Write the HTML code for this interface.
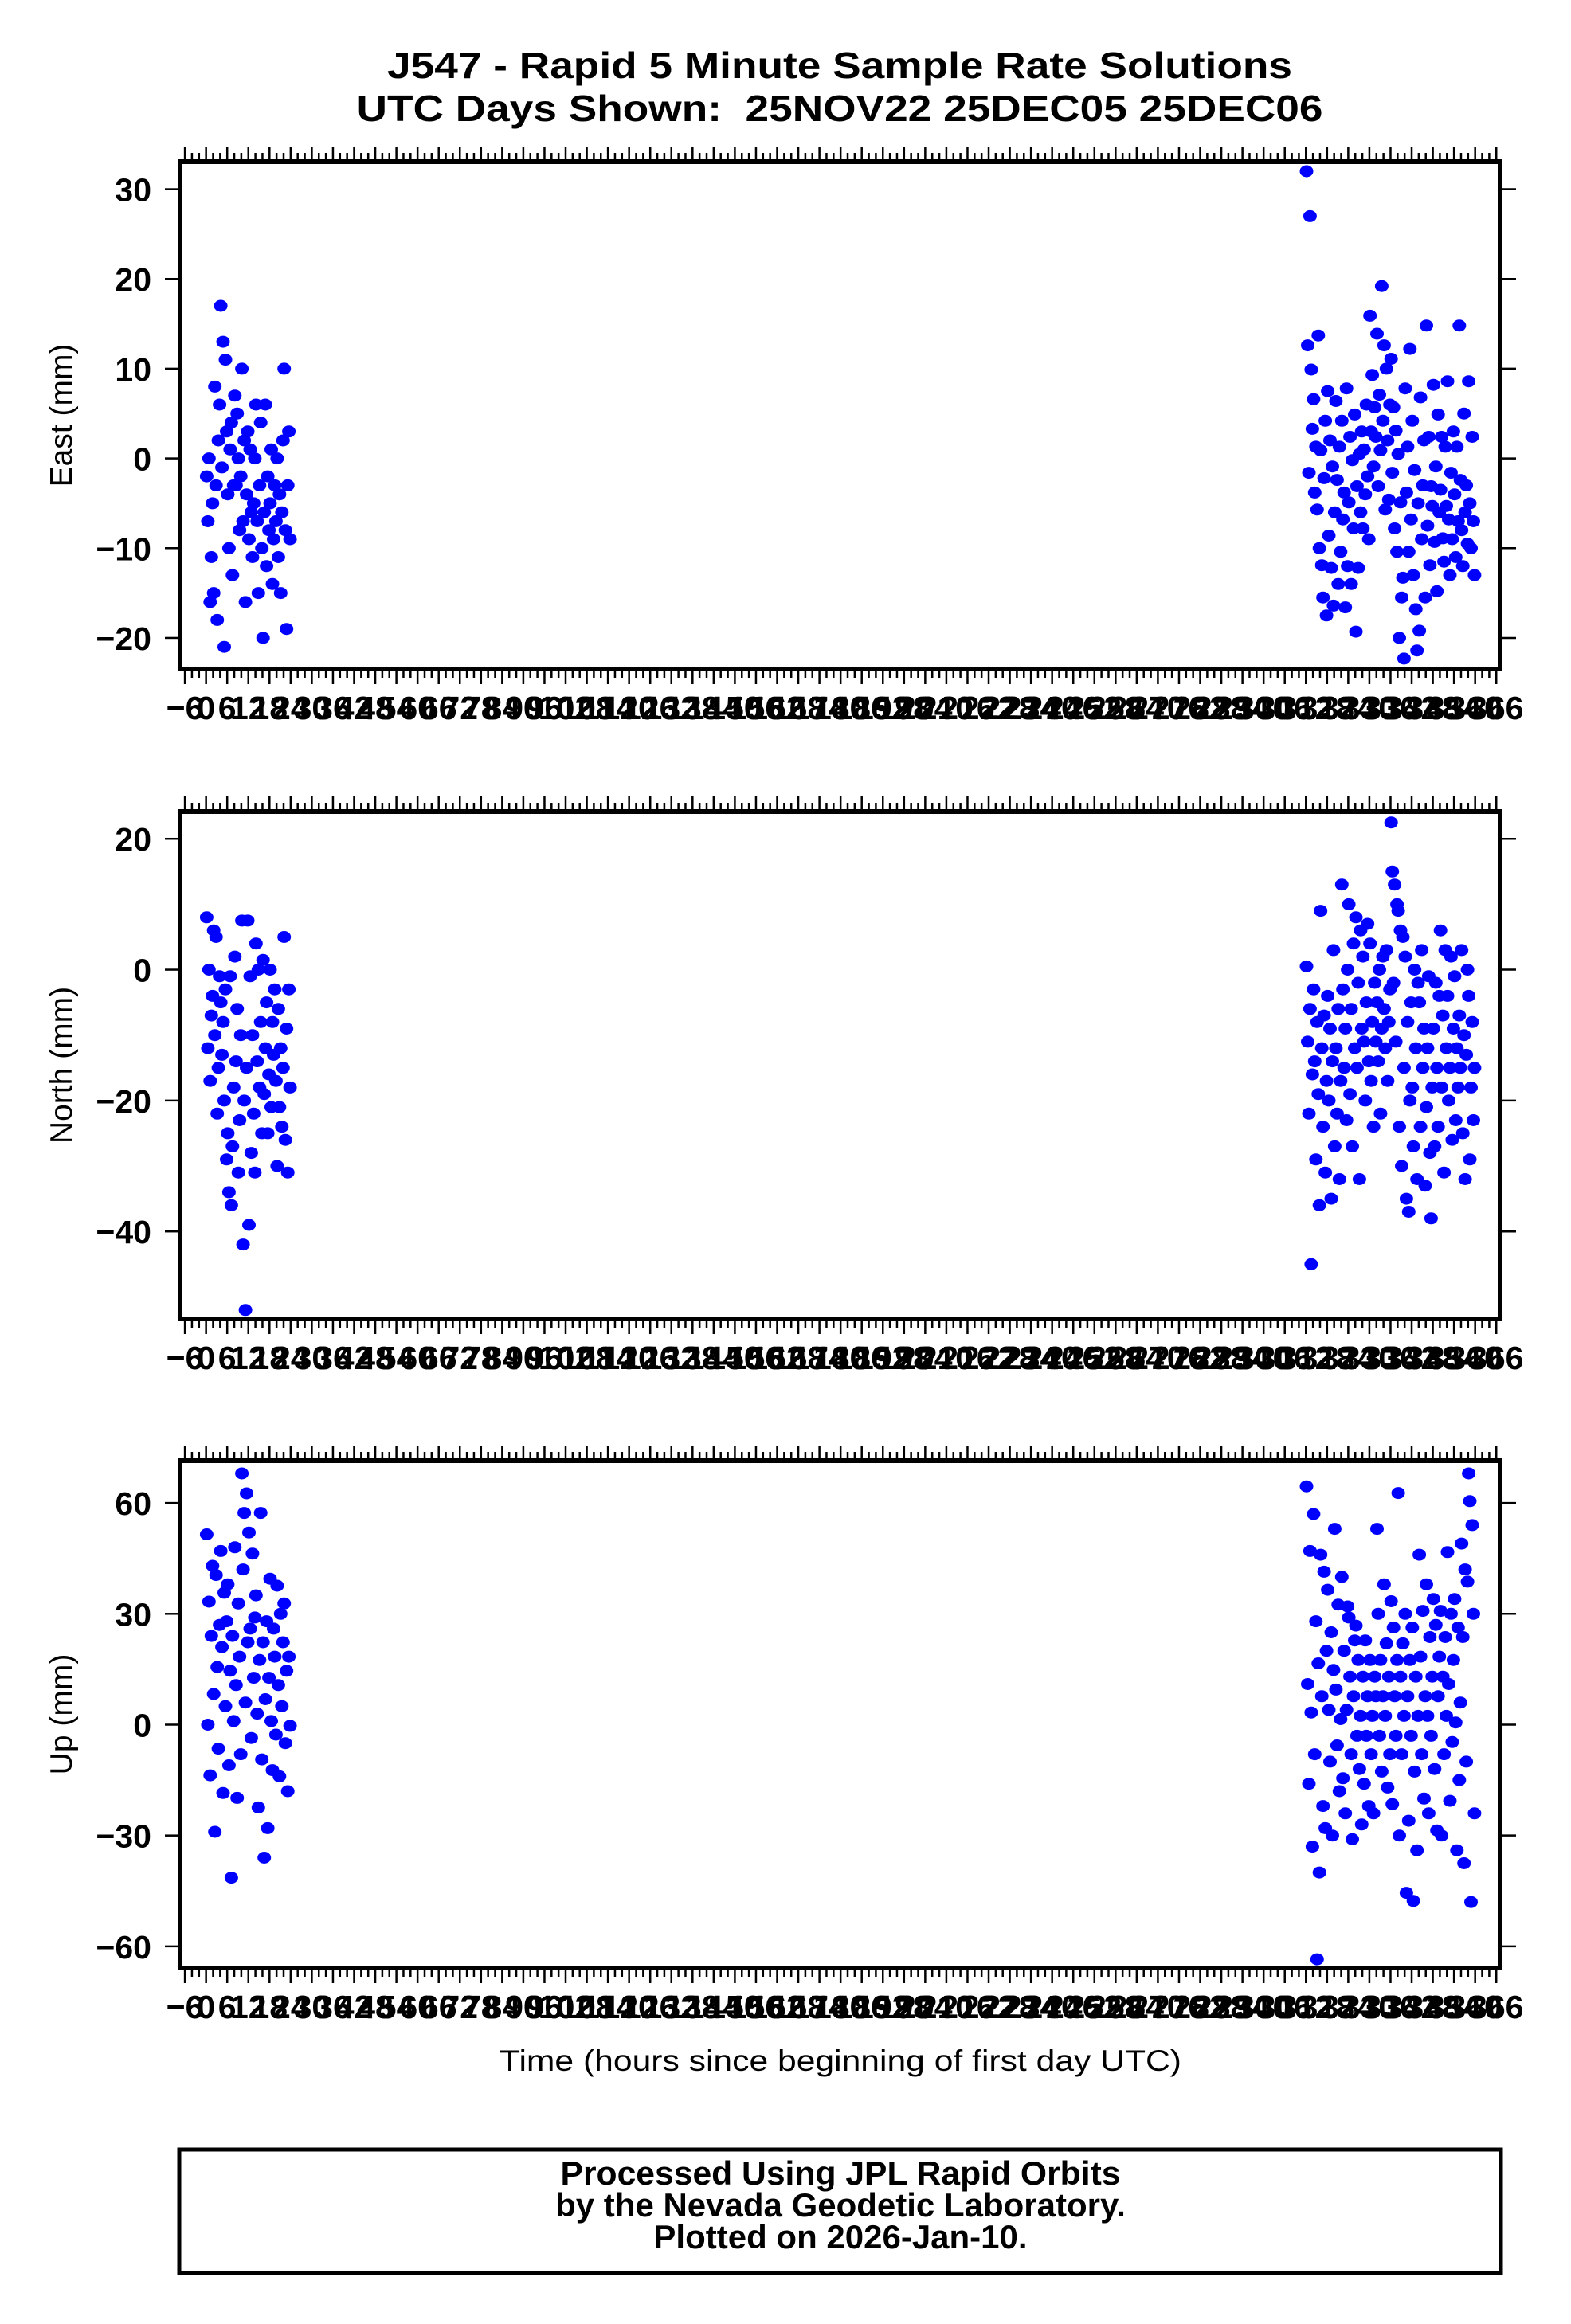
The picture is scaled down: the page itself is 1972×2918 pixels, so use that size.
<!DOCTYPE html>
<html><head><meta charset="utf-8"><style>
html,body{margin:0;padding:0;background:#fff;}
svg{display:block;}
text{font-family:"Liberation Sans",Arial,sans-serif;}
</style></head>
<body>
<svg id="chart" xmlns="http://www.w3.org/2000/svg" width="1972" height="2918" viewBox="0 0 1972 2918">
<rect x="0" y="0" width="1972" height="2918" fill="#fff"/>
<text x="1054" y="98" text-anchor="middle" font-size="46" font-weight="bold" textLength="1136" lengthAdjust="spacingAndGlyphs">J547 - Rapid 5 Minute Sample Rate Solutions</text>
<text x="1054" y="152" text-anchor="middle" font-size="46" font-weight="bold" textLength="1213" lengthAdjust="spacingAndGlyphs" xml:space="preserve">UTC Days Shown:  25NOV22 25DEC05 25DEC06</text>
<text x="1055" y="2600" text-anchor="middle" font-size="37" textLength="856" lengthAdjust="spacingAndGlyphs">Time (hours since beginning of first day UTC)</text>
<g>
<rect x="225" y="2699" width="1659" height="155" fill="none" stroke="#000" stroke-width="5"/>
<text x="1055" y="2743" text-anchor="middle" font-size="42" font-weight="bold" textLength="703" lengthAdjust="spacingAndGlyphs">Processed Using JPL Rapid Orbits</text>
<text x="1055" y="2783" text-anchor="middle" font-size="42" font-weight="bold">by the Nevada Geodetic Laboratory.</text>
<text x="1055" y="2823" text-anchor="middle" font-size="42" font-weight="bold">Plotted on 2026-Jan-10.</text>
</g>
</svg>
<script>
// ---- data (hours since start of first day; 20-minute samples per segment) ----
const dayStarts = [0, 312];
const sampleStepHours = 1/3;
const xTickLabels = [];
for (let h = -6; h <= 366; h += 6) xTickLabels.push(h);

const eastDay1 = [-2,-7,0,-16,-11,-5, -15,8,-3,-18,2,6, 17,-1,13,-21,11,3, -4,-10,1,4,-13,-3, 7,-3,5,0,-8,-2, 10,-7,2,-16,-4,3, -9,1,-6,-11,-5,0, 6,-7,-15,-3,4,-10, -20,-6,6,-12,-2,-8, -5,1,-14,-9,-3,-7, 0,-11,-4,-15,-6,2, 10,-8,-19,-3,3,-9];
const eastDays23 = [32,12.6,-1.6,27,9.9,3.3, 6.6,-3.8,1.3,-5.7,13.7,-10, 0.9,-11.9,-15.5,-2.2,4.2,-17.5, 7.5,-8.6,2,-12.2,-0.9,-16.4, -6,6.4,-2.4,-14,1.3,-10.4, 4.2,-6.8,-3.8,-16.6,7.8,-12, -4.9,2.4,-14,-0.2,-7.8,4.9, -19.3,-3.1,-12.2,0.5,-6,3, -7.8,1,-4,6,-2,-9, 15.9,3,9.3,-0.9,5.7,2.4, 13.9,-3.1,7.1,0.9,19.2,4.2, 12.6,-5.7,10,2,-4.6,6, 11.1,-1.6,5.7,-7.8,3.1,-10.4, 0.5,-20,-4.9,-15.5,-13.3,-22.3, 7.8,-3.8,1.3,-10.4,12.2,-6.8, 4.2,-13,-1.3,-16.8,-21.4,-5, -19.2,6.8,-9,-3,2,-15.5, 14.8,-7.5,2.4,-11.9,-3.1,-5.3, 8.2,-9.3,-0.9,-14.8,4.9,-6, -3.5,2.4,-8.9,-11.5,1.3,-5.3, 8.6,-6.8,-13,-1.6,-9,3, -4,-11,1.3,-7,14.8,-2.4, -8,-12,5,-6,-3,-9.5, 8.6,-5,-10,2.4,-7,-13];

const northDay1 = [8,-12,0,-17,-7,-4, 6,-10,5,-22,-15,-1, -5,-13,-8,-20,-3,-29, -25,-34,-1,-36,-27,-18, 2,-14,-6,-31,-23,-10, 7.5,-42,-20,-52,-15,7.5, -39,-1,-28,-10,-22,-31, 4,-14,0,-18,-8,-25, 1.5,-19,-12,-5,-25,-16, 0,-21,-8,-13,-3,-17, -30,-6,-21,-12,-24,-15, 5,-26,-9,-31,-3,-18];
const northDays23 = [0.5,-11,-22,-6,-45,-16, -3,-14,-29,-8,-19,-36, 9,-12,-24,-7,-31,-17, -4,-20,-9,-35,-14,3, -27,-12,-22,-6,-32,-17, 13,-3,-15,-9,-23,0, 10,-19,-6,-27,4,-12, 8,-15,-2,-32,6,-9, 2,-11,-20,-5,7,-14, 4,-17,-8,-24,-2,-11, -5,-14,0,-22,-9,2, -6,-12,3,-17,-8,-3, 22.5,15,-2,13,-11,10, 9,-24,6,-30,5,-15, 2,-35,-8,-37,-20,-5, -18,-27,0,-12,-32,-2, -5,-24,3,-15,-9,-33, -21,-12,-1,-28,-38,-18, -9,-27,-2,-15,-24,-4, 6,-18,-7,-31,3,-12, -4,-20,-15,2,-26,-9, -1,-23,-12,-18,-7,-15, 3,-25,-10,-32,-13,0, -4,-29,-18,-8,-23,-15];

const upDay1 = [51.5,0,33.3,-13.7,24,43, 8.3,-29,40.5,15.6,-6.5,27, 47,21,-18.5,35.7,5,28, 38,-11,14.6,-41.4,24,1, 48,10.7,-19.8,32.8,18.4,-8, 68,42,57.3,6,62.6,22.3, 52,26,-3.6,46.3,12.7,29, 35,3,-22.4,17.5,57.3,-9.4, 22.3,-36,6.9,28,-28,12.7, 39.5,1,-12.3,26,18.4,-2.7, 37.6,10.7,-14,30,5,22.3, 32.8,-5,14.6,-18,18.4,-0.3];
const upDays23 = [64.5,11,-16,47,3.3,-33, 57,-8,28,-63.5,16.6,-40, 46,7.7,-22,41.4,-28,20, 36.5,4,-10,25,-30,14.8, 53,9.5,-5.6,32.5,-18,1.5, 40,-14.5,20,-24,4,32, 29,13,-8,-31,7.7,22.8, 26.8,-3,17.5,-12,2.4,-27, 13,-16,22.8,-3,7.7,-22, 17.5,-8,2.4,-24,13,7.7, 53,30,-3,17.5,-12.7,7.7, 38,2.4,22,-17,13,-8, 33.4,-21.5,26.3,7.7,-3,17.5, 62.7,-30,13,-8,22,2.4, 30,-45.5,7.7,-26,17.5,-3, 26.3,-47.7,-12.7,13,-34,2.4, 46,18.4,-8,30.8,-20,7.7, 38,2.4,-24,23.7,-3,13, 34,-12,27,-28.6,7.7,18.4, 30.8,-30,13,-8,23.7,2.4, 46.7,11,-20.6,30,-4.7,17.5, 34,0.6,-34,26.3,-15,6, 49,23.7,-37.5,42,-10,38.7, 68,60.5,-48,54,30,-24];

const eastTicks = [30,20,10,0,-10,-20];
const northTicks = [20,0,-20,-40];
const upTicks = [60,30,0,-30,-60];

// ---- layout ----
const NS = 'http://www.w3.org/2000/svg';
const svg = document.getElementById('chart');
const X0 = 229, X1 = 1880, XMIN = -6.7, XMAX = 366.4;
function xScale(h){ return X0 + (h - XMIN) / (XMAX - XMIN) * (X1 - X0); }

const panels = [
  {name:'east', title:'East (mm)', top:200, ymin:-23.2, ymax:32.8, ticks:eastTicks, series:[eastDay1, eastDays23]},
  {name:'north', title:'North (mm)', top:1016, ymin:-53, ymax:23.8, ticks:northTicks, series:[northDay1, northDays23]},
  {name:'up', title:'Up (mm)', top:1831, ymin:-65.2, ymax:70.8, ticks:upTicks, series:[upDay1, upDays23]}
];

function mk(tag, attrs, parent){
  const el = document.createElementNS(NS, tag);
  for (const k in attrs) el.setAttribute(k, attrs[k]);
  parent.appendChild(el);
  return el;
}

panels.forEach(p => {
  const outerTop = p.top, outerBot = p.top + 643;
  const inTop = outerTop + 6, inBot = outerBot - 6;
  const yScale = v => inBot - (v - p.ymin) / (p.ymax - p.ymin) * (inBot - inTop);
  const g = mk('g', {}, svg);
  
  

  const pts = mk('g', {fill:'#0000ff'}, g);
  
  
  p.series.forEach((vals, si) => {
    vals.forEach((v, i) => {
      const h = dayStarts[si] + (i + 0.5) * sampleStepHours;
      const c = mk('ellipse', {cx:xScale(h).toFixed(1), cy:yScale(v).toFixed(1), rx:8.5, ry:7.5}, pts);
      
      
    });
  });

  const fr = mk('rect', {x:226, y:outerTop+3, width:1657, height:637, fill:'none', stroke:'#000', 'stroke-width':6}, g);
  
  

  const yax = mk('g', {}, g);
  
  
  p.ticks.forEach(t => {
    const y = yScale(t);
    mk('line', {x1:207, x2:223, y1:y, y2:y, stroke:'#000', 'stroke-width':2.5}, yax);
    mk('line', {x1:1886, x2:1903, y1:y, y2:y, stroke:'#000', 'stroke-width':2.5}, yax);
    const lb = mk('text', {x:190, y:y+15, 'text-anchor':'end', 'font-size':41, 'font-weight':'bold'}, yax);
    lb.textContent = t < 0 ? '\u2212' + Math.abs(t) : String(t);
    
    
  });
  const yt = mk('text', {x:0, y:0, 'text-anchor':'middle', 'font-size':39, transform:`translate(90,${(outerTop+outerBot)/2}) rotate(-90)`}, g);
  yt.textContent = p.title;
  
  

  const xax = mk('g', {}, g);
  
  
  for (let h = -6; h <= 366; h += 2) {
    const x = xScale(h);
    const major = (h % 6 === 0);
    const len = major ? 16 : 8;
    mk('line', {x1:x, x2:x, y1:outerTop, y2:outerTop-len, stroke:'#000', 'stroke-width':2.5}, xax);
    mk('line', {x1:x, x2:x, y1:outerBot, y2:outerBot+len, stroke:'#000', 'stroke-width':2.5}, xax);
  }
  xTickLabels.forEach(h => {
    const lb = mk('text', {x:xScale(h), y:outerBot+60, 'text-anchor':'middle', 'font-size':41, 'font-weight':'bold'}, xax);
    lb.textContent = h < 0 ? '\u2212' + Math.abs(h) : String(h);
    
    
  });
});
</script>
</body></html>
